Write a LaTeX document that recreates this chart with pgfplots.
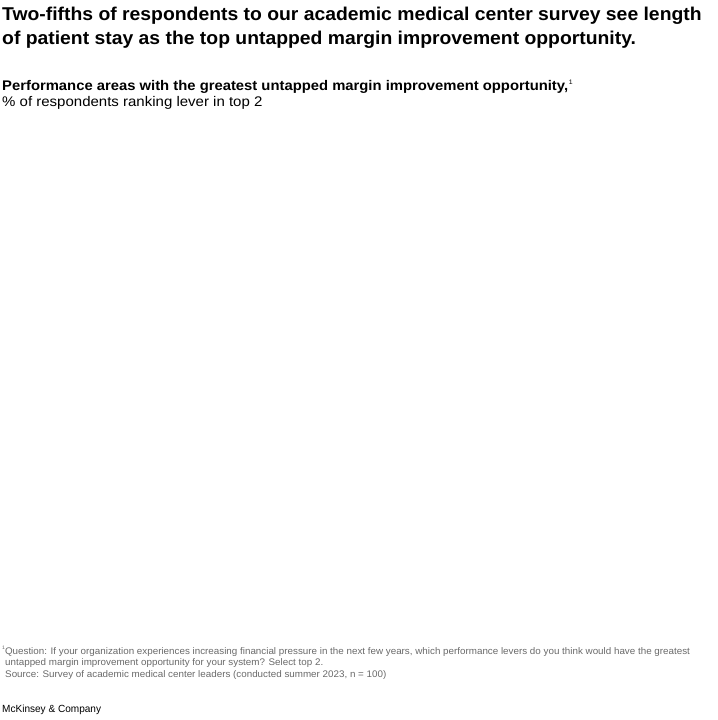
\documentclass[border=0pt]{standalone}
\usepackage{fontspec}
\setmainfont{Liberation Sans}
\usepackage{pgfplots}
\pgfplotsset{compat=1.18}
\definecolor{notegray}{RGB}{105,105,105}

\begin{document}
\begin{tikzpicture}[every node/.style={inner sep=0pt, anchor=base west}]
  \path[use as bounding box] (0bp,0bp) rectangle (718bp,-720bp);

  % titles
  \node[font=\fontsize{18.6}{24}\selectfont\bfseries\addfontfeature{FakeStretch=1.044}] at (2bp,-20.7bp)
    {Two-fifths of respondents to our academic medical center survey see length};
  \node[font=\fontsize{18.6}{24}\selectfont\bfseries\addfontfeature{FakeStretch=1.044}] at (2bp,-44.5bp)
    {of patient stay as the top untapped margin improvement opportunity.};
  \node[font=\fontsize{14}{17}\selectfont\bfseries\addfontfeature{FakeStretch=1.062}] at (2bp,-90bp)
    {Performance areas with the greatest untapped margin improvement opportunity,\kern0.6bp\raisebox{5.3bp}{\fontsize{6.5}{6.5}\selectfont\mdseries 1}};
  \node[font=\fontsize{14}{17}\selectfont\addfontfeature{FakeStretch=1.076}] at (2bp,-106.5bp)
    {\% of respondents ranking lever in top 2};

  % chart area (no data shown in the reference)
  \begin{axis}[
      at={(0bp,-630bp)}, anchor=south west,
      width=718bp, height=500bp, scale only axis,
      hide axis,
      xmin=0, xmax=1, ymin=0, ymax=1,
    ]
  \end{axis}

  % notes
  \node[font=\fontsize{9.6}{11.5}\selectfont\addfontfeature{FakeStretch=1.027}, text=notegray] at (2bp,-654bp)
    {\raisebox{4.5bp}{\fontsize{5}{5}\selectfont 1}Question: If your organization experiences increasing financial pressure in the next few years, which performance levers do you think would have the greatest};
  \node[font=\fontsize{9.6}{11.5}\selectfont\addfontfeature{FakeStretch=1.027}, text=notegray] at (5bp,-665.5bp)
    {untapped margin improvement opportunity for your system? Select top 2.};
  \node[font=\fontsize{9.6}{11.5}\selectfont\addfontfeature{FakeStretch=1.027}, text=notegray] at (5bp,-677bp)
    {Source: Survey of academic medical center leaders (conducted summer 2023, n = 100)};
  \node[font=\fontsize{10.4}{12}\selectfont\addfontfeature{FakeStretch=0.97}] at (2bp,-712bp)
    {McKinsey \& Company};
\end{tikzpicture}
\end{document}
